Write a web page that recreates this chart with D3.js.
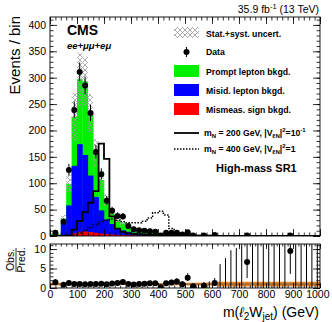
<!DOCTYPE html>
<html><head><meta charset="utf-8">
<script src="https://cdn.jsdelivr.net/npm/d3@7"></script>
<style>
body{margin:0;background:#fff;}
svg{display:block;font-family:"Liberation Sans",Arial,Helvetica,sans-serif;}
</style></head><body>
<svg id="c" width="332" height="322"></svg>
<script>
// ---- data ----
const edges = [0,40,60,80,100,120,140,160,180,200,220,240,260,280,300,320,340,360,380,400,420,440,460,480,500,520,540,560,580,600,620,640,660,680,700,720,740,760,780,800,820,840,860,880,900,920,940,960,980,1000];
const mismeas = [0,1,2,5,8,8.5,7.5,6,4.5,3.5, 2.8,2.2,1.8,1.4,1.1,0.9,0.7,0.6,0.5,0.4, 0.35,0.3,0.25,0.2,0.18,0.15,0.12,0.1,0.08,0.07, 0.05,0.04,0.03,0.03,0.02,0.02,0.02,0.01,0.01,0.01, 0.01,0.01,0.01,0.01,0.01,0.01,0.01,0.01,0.01];
const misid = [2,25,56,128,166,145,107,68,44,28, 20,13,9,6.5,5,4,3.2,2.6,2.2,1.8, 1.5,1.3,1.1,0.9,0.8,0.7,0.6,0.5,0.4,0.5, 0.1,0.08,0.06,0.05,0.04,0.04,0.03,0.03,0.03,0.02, 0.02,0.02,0.02,0.02,0.02,0.02,0.02,0.02,0.02];
const prompt = [2,7,41,93,123,139.5,117.5,84,57.5,36.5, 19.2,14.8,13.2,10.1,7.9,6.1,5.1,4.3,3.8,3.3, 2.95,2.6,2.25,2.0,1.7,1.5,1.3,1.1,0.6,1.0, 0.15,0.12,0.1,0.1,0.1,0.09,0.08,0.08,0.07,0.07, 0.06,0.06,0.06,0.075,0.05,0.05,0.05,0.04,0.04];
const relUnc = [0.35,0.2,0.16,0.2,0.17,0.16,0.16,0.16,0.16,0.16, 0.17,0.17,0.18,0.2,0.2,0.22,0.22,0.24,0.25,0.26, 0.28,0.3,0.3,0.32,0.34,0.35,0.36,0.38,0.4,0.4, 0.6,0.6,0.6,0.6,0.6,0.6,0.6,0.6,0.6,0.6, 0.6,0.6,0.6,0.6,0.6,0.6,0.6,0.6,0.6];
const observed = [6,27,125,239,311,285,233,159,117,67, 48,38,37,19,13,11,10,9,8,1, 6,6,6,3,7,1,0,1,0,2, 0,0,0,0,0,1,0,0,0,0, 0,0,0,1,0,0,0,0,0];
const sigN200 = [0,0,1,12,28,45,63,85,175,146, 37,14,8,5,4,3,2.5,2,1.8,1.5, 1.3,1.1,1,0.9,0.8,0.7,0.6,0.5,0.5,0.4, 0.3,0.3,0.3,0.2,0.2,0.2,0.2,0.2,0.1,0.1, 0.1,0.1,0.1,0.1,0.1,0.1,0.1,0.1,0.1];
const sigN400 = [0,0,0,2,5,11,16,22,27,30, 32,30,27,25,25,25,28,34,44,47, 40,14,4,3,2,1.5,1,1,0.8,0.6, 0.5,0.5,0.4,0.4,0.3,0.3,0.3,0.2,0.2,0.2, 0.2,0.2,0.1,0.1,0.1,0.1,0.1,0.1,0.1];
const xTicks = [0,100,200,300,400,500,600,700,800,900,1000];
const yTicks = [0,50,100,150,200,250,300,350,400];
const rTicks = [0,5,10];

// ---- layout ----
const svg = d3.select("#c");
const X0 = 50, X1 = 320, Y0 = 17, Y1 = 236, R0 = 244, R1 = 288;
const x = d3.scaleLinear().domain([0,1000]).range([X0,X1]);
const y = d3.scaleLinear().domain([0,415]).range([Y1,Y0]);
const yr = d3.scaleLinear().domain([0,11.3]).range([R1,R0]);

const bins = observed.map((d,i)=>{
  const tot = mismeas[i]+misid[i]+prompt[i];
  return {i, lo:edges[i], hi:edges[i+1], red:mismeas[i], blue:misid[i], green:prompt[i], tot,
    unc: relUnc[i]*tot, obs:d, s200:sigN200[i], s400:sigN400[i]};
});
function pErr(n){ if(n===0) return [0,1.84]; const s=Math.sqrt(n+0.25); return [s-0.5, s+0.5]; }

const defs = svg.append("defs");
const pat = defs.append("pattern").attr("id","hatch").attr("patternUnits","userSpaceOnUse").attr("width",5).attr("height",5);
pat.append("path").attr("d","M0,0L5,5M5,0L0,5M-1,4L1,6M4,-1L6,1").attr("stroke","#9a9a9a").attr("stroke-width",0.8);
defs.append("clipPath").attr("id","clipM").append("rect").attr("x",X0).attr("y",Y0).attr("width",X1-X0).attr("height",Y1-Y0);
defs.append("clipPath").attr("id","clipR").append("rect").attr("x",X0).attr("y",R0).attr("width",X1-X0).attr("height",R1-R0);

// ---- main stack ----
const gm = svg.append("g").attr("clip-path","url(#clipM)");
const layers = [["green","#00f000",b=>b.tot],["blue","#0000ff",b=>b.red+b.blue],["red","#ff0000",b=>b.red]];
layers.forEach(([k,col,f])=>{
  gm.selectAll("rect."+k).data(bins).join("rect").attr("class",k)
    .attr("x",b=>x(b.lo)).attr("width",b=>x(b.hi)-x(b.lo)+0.3)
    .attr("y",b=>y(f(b))).attr("height",b=>Math.max(0,y(0)-y(f(b)))).attr("fill",col);
});
gm.selectAll("rect.unc").data(bins).join("rect").attr("class","unc")
  .attr("x",b=>x(b.lo)).attr("width",b=>x(b.hi)-x(b.lo))
  .attr("y",b=>y(b.tot+b.unc)).attr("height",b=>y(Math.max(0,b.tot-b.unc))-y(b.tot+b.unc))
  .attr("fill","url(#hatch)");

// signal step histograms
function stepPath(key){
  let p = `M${x(edges[0])},${y(0)}`;
  bins.forEach(b=>{ p += `L${x(b.lo)},${y(b[key])}L${x(b.hi)},${y(b[key])}`; });
  p += `L${x(edges[edges.length-1])},${y(0)}`;
  return p;
}
gm.append("path").attr("d",stepPath("s200")).attr("fill","none").attr("stroke","#000").attr("stroke-width",1.8);
gm.append("path").attr("d",stepPath("s400")).attr("fill","none").attr("stroke","#000").attr("stroke-width",1.5).attr("stroke-dasharray","1.5,1.5");

// data points
const dpts = bins.filter(b=>b.obs>0);
gm.selectAll("line.err").data(dpts).join("line").attr("class","err")
  .attr("x1",b=>x((b.lo+b.hi)/2)).attr("x2",b=>x((b.lo+b.hi)/2))
  .attr("y1",b=>y(b.obs-pErr(b.obs)[0])).attr("y2",b=>y(b.obs+pErr(b.obs)[1]))
  .attr("stroke","#000").attr("stroke-width",1);
gm.selectAll("circle.pt").data(dpts).join("circle").attr("class","pt")
  .attr("cx",b=>x((b.lo+b.hi)/2)).attr("cy",b=>y(b.obs)).attr("r",3).attr("fill","#000");

// ---- ratio ----
const gr = svg.append("g").attr("clip-path","url(#clipR)");
gr.selectAll("rect.band").data(bins).join("rect").attr("class","band")
  .attr("x",b=>x(b.lo)).attr("width",b=>x(b.hi)-x(b.lo)+0.3)
  .attr("y",b=>yr(1+relUnc[b.i])).attr("height",b=>yr(Math.max(0,1-relUnc[b.i]))-yr(1+relUnc[b.i]))
  .attr("fill","#e8821e");
gr.append("line").attr("x1",X0).attr("x2",X1).attr("y1",yr(1)).attr("y2",yr(1)).attr("stroke","#555").attr("stroke-width",0.8);
gr.selectAll("line.rerr").data(bins).join("line").attr("class","rerr")
  .attr("x1",b=>x((b.lo+b.hi)/2)).attr("x2",b=>x((b.lo+b.hi)/2))
  .attr("y1",b=>yr((b.obs-pErr(b.obs)[0])/b.tot)).attr("y2",b=>yr((b.obs+pErr(b.obs)[1])/b.tot))
  .attr("stroke","#000").attr("stroke-width",1);
gr.selectAll("circle.rpt").data(dpts).join("circle").attr("class","rpt")
  .attr("cx",b=>x((b.lo+b.hi)/2)).attr("cy",b=>yr(b.obs/b.tot)).attr("r",3).attr("fill","#000");

// ---- axes ----
function styleAxis(g){ g.select(".domain").remove(); g.selectAll("line").attr("stroke","#000").attr("stroke-width",0.8);
  g.selectAll("text").attr("font-size",10.5).attr("fill","#000").attr("font-family","Liberation Sans,Arial,sans-serif"); }
function minor(step, lo, hi){ const a=[]; for(let v=lo; v<=hi+1e-9; v+=step) a.push(+v.toFixed(6)); return a; }
const xMinor = minor(20,0,1000), yMinor = minor(10,0,410), rMinor = minor(1,0,11);
const fmt = d3.format("d");

// main left/right
svg.append("g").attr("transform",`translate(${X0},0)`).call(d3.axisLeft(y).tickValues(yTicks).tickSize(-7).tickPadding(4).tickFormat(fmt)).call(styleAxis);
svg.append("g").attr("transform",`translate(${X0},0)`).call(d3.axisLeft(y).tickValues(yMinor).tickSize(-3.5).tickFormat("")).call(styleAxis);
svg.append("g").attr("transform",`translate(${X1},0)`).call(d3.axisRight(y).tickValues(yTicks).tickSize(-7).tickFormat("")).call(styleAxis);
svg.append("g").attr("transform",`translate(${X1},0)`).call(d3.axisRight(y).tickValues(yMinor).tickSize(-3.5).tickFormat("")).call(styleAxis);
// main top/bottom
[[Y0,d3.axisTop],[Y1,d3.axisBottom]].forEach(([yy,ax])=>{
  svg.append("g").attr("transform",`translate(0,${yy})`).call(ax(x).tickValues(xTicks).tickSize(-7).tickFormat("")).call(styleAxis);
  svg.append("g").attr("transform",`translate(0,${yy})`).call(ax(x).tickValues(xMinor).tickSize(-3.5).tickFormat("")).call(styleAxis);
});
// ratio
svg.append("g").attr("transform",`translate(${X0},0)`).call(d3.axisLeft(yr).tickValues(rTicks).tickSize(-7).tickPadding(4).tickFormat(fmt)).call(styleAxis);
svg.append("g").attr("transform",`translate(${X0},0)`).call(d3.axisLeft(yr).tickValues(rMinor).tickSize(-3.5).tickFormat("")).call(styleAxis);
svg.append("g").attr("transform",`translate(${X1},0)`).call(d3.axisRight(yr).tickValues(rTicks).tickSize(-7).tickFormat("")).call(styleAxis);
svg.append("g").attr("transform",`translate(${X1},0)`).call(d3.axisRight(yr).tickValues(rMinor).tickSize(-3.5).tickFormat("")).call(styleAxis);
const xax = svg.append("g").attr("transform",`translate(0,${R1})`).call(d3.axisBottom(x).tickValues(xTicks).tickSize(-5).tickPadding(3).tickFormat(fmt)).call(styleAxis);
xax.selectAll(".tick").filter(d=>d===1000).select("text").attr("text-anchor","end").attr("dx",9);
svg.append("g").attr("transform",`translate(0,${R1})`).call(d3.axisBottom(x).tickValues(xMinor).tickSize(-2.5).tickFormat("")).call(styleAxis);
svg.append("g").attr("transform",`translate(0,${R0})`).call(d3.axisTop(x).tickValues(xTicks).tickSize(-5).tickFormat("")).call(styleAxis);
svg.append("g").attr("transform",`translate(0,${R0})`).call(d3.axisTop(x).tickValues(xMinor).tickSize(-2.5).tickFormat("")).call(styleAxis);

// frames
svg.append("rect").attr("x",X0).attr("y",Y0).attr("width",X1-X0).attr("height",Y1-Y0).attr("fill","none").attr("stroke","#000").attr("stroke-width",0.9);
svg.append("rect").attr("x",X0).attr("y",R0).attr("width",X1-X0).attr("height",R1-R0).attr("fill","none").attr("stroke","#000").attr("stroke-width",0.9);

// ---- titles ----
svg.append("text").attr("transform",`translate(20,16) rotate(-90)`).attr("text-anchor","end").attr("font-size",15).text("Events / bin");
const ot = svg.append("g").attr("transform","translate(16,260) rotate(-90)");
ot.append("text").attr("text-anchor","middle").attr("y",-2.5).attr("font-size",10.5).text("Obs.");
ot.append("line").attr("x1",-12).attr("x2",12).attr("y1",0).attr("y2",0).attr("stroke","#000").attr("stroke-width",0.8);
ot.append("text").attr("text-anchor","middle").attr("y",8.5).attr("font-size",10.5).text("Pred.");

const xt = svg.append("text").attr("x",319).attr("y",317).attr("text-anchor","end").attr("font-size",14);
xt.append("tspan").text("m(");
xt.append("tspan").attr("font-style","italic").text("ℓ");
xt.append("tspan").attr("font-size",10).attr("dy",3).text("2");
xt.append("tspan").attr("dy",-3).text("W");
xt.append("tspan").attr("font-size",10).attr("dy",3).text("jet");
xt.append("tspan").attr("dy",-3).text(") (GeV)");

const lt = svg.append("text").attr("x",319).attr("y",13).attr("text-anchor","end").attr("font-size",10.5);
lt.append("tspan").text("35.9 fb");
lt.append("tspan").attr("font-size",7.5).attr("dy",-4).text("-1");
lt.append("tspan").attr("dy",4).text(" (13 TeV)");

svg.append("text").attr("x",67).attr("y",35).attr("font-size",14).attr("font-weight","bold").text("CMS");
svg.append("text").attr("x",67).attr("y",49).attr("font-size",9.5).attr("font-weight","bold").attr("font-style","italic").text("ee+μμ+eμ");

// ---- legend ----
const LX = 174, LW = 25, TX = 206;
const lg = svg.append("g").attr("font-size",8.7).attr("font-weight","bold");
lg.append("rect").attr("x",LX).attr("y",27).attr("width",LW).attr("height",11).attr("fill","url(#hatch)");
lg.append("text").attr("x",TX).attr("y",37).text("Stat.+syst. uncert.");
lg.append("line").attr("x1",LX+LW/2).attr("x2",LX+LW/2).attr("y1",47).attr("y2",57).attr("stroke","#000");
lg.append("circle").attr("cx",LX+LW/2).attr("cy",52).attr("r",3);
lg.append("text").attr("x",TX).attr("y",55).text("Data");
[["#00f000",65,"Prompt lepton bkgd."],["#0000ff",84,"Misid. lepton bkgd."],["#ff0000",103,"Mismeas. sign bkgd."]].forEach(([c,yy,t])=>{
  lg.append("rect").attr("x",LX).attr("y",yy).attr("width",LW).attr("height",12).attr("fill",c);
  lg.append("text").attr("x",TX).attr("y",yy+10).text(t);
});
lg.append("line").attr("x1",LX).attr("x2",LX+LW).attr("y1",133).attr("y2",133).attr("stroke","#000").attr("stroke-width",1.8);
lg.append("line").attr("x1",LX).attr("x2",LX+LW).attr("y1",149).attr("y2",149).attr("stroke","#000").attr("stroke-width",1.5).attr("stroke-dasharray","1.5,1.5");
function sigLabel(yy, mass, coup, sup){
  const t = lg.append("text").attr("x",TX-2).attr("y",yy);
  t.append("tspan").text("m");
  t.append("tspan").attr("font-size",6).attr("dy",2).text("N");
  t.append("tspan").attr("dy",-2).text(` = ${mass} GeV, |V`);
  t.append("tspan").attr("font-size",6).attr("dy",2).text("ℓN");
  t.append("tspan").attr("dy",-2).text("|");
  t.append("tspan").attr("font-size",6).attr("dy",-4).text("2");
  t.append("tspan").attr("dy",4).text("="+coup);
  if(sup){ t.append("tspan").attr("font-size",6).attr("dy",-4).text(sup); }
}
sigLabel(136,200,"10","-1");
sigLabel(152,400,"1",null);
svg.append("text").attr("x",216).attr("y",172).attr("font-size",11).attr("font-weight","bold").text("High-mass SR1");
</script></body></html>
